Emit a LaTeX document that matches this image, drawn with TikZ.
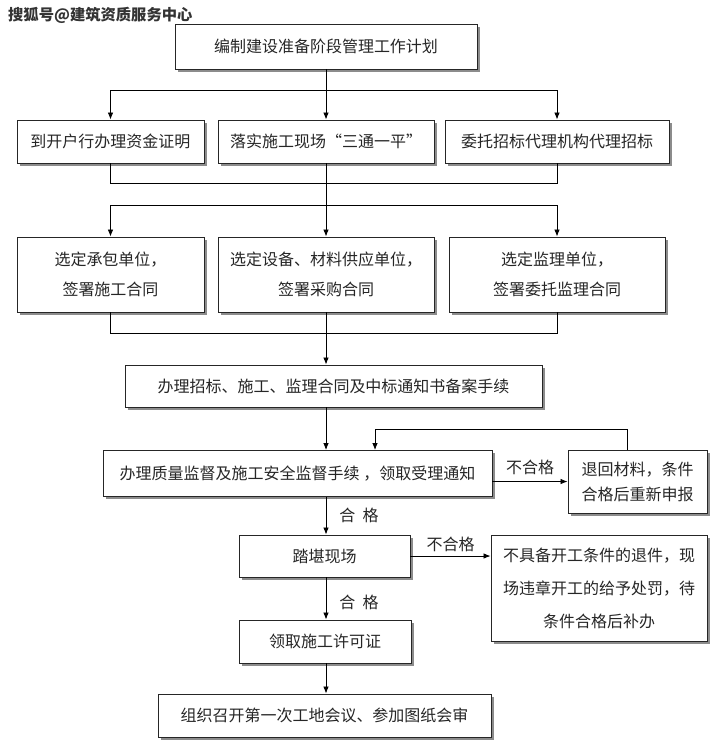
\documentclass[tikz,border=0pt]{standalone}
\usepackage{fontspec}
\setmainfont{Noto Sans CJK SC}
\usetikzlibrary{arrows.meta,shadows,calc}
\begin{document}
\begin{tikzpicture}[x=1pt,y=-1pt,
  box/.style={draw=black!85, line width=0.9pt, fill=white, inner sep=0pt,
    text=black!85, font=\fontsize{16}{18}\selectfont, align=center,
    drop shadow={shadow xshift=2.5pt, shadow yshift=-2.5pt, fill=black!45, opacity=1}},
  conn/.style={draw=black, line width=0.8pt},
  arr/.style={conn, -{Latex[length=7pt,width=5.5pt]}},
  lab/.style={text=black!85, font=\fontsize{16}{18}\selectfont, inner sep=1pt}]
\fill[white] (0,0) rectangle (720,756);
\useasboundingbox (0,0) rectangle (720,756);

\node[anchor=west, text=black!80, font=\fontsize{15.3}{17}\selectfont\bfseries, inner sep=0pt] (wm) at (8,15) {搜狐号@建筑资质服务中心};

\node[box, minimum width=302pt, minimum height=45pt] (n1) at (326,46.5) {编制建设准备阶段管理工作计划};

\node[box, minimum width=187pt, minimum height=43pt] (a1) at (110.5,141.5) {到开户行办理资金证明};
\node[box, minimum width=216pt, minimum height=43pt] (b1) at (326,141.5) {落实施工现场“三通一平”};
\node[box, minimum width=224pt, minimum height=43pt] (c1) at (557,141.5) {委托招标代理机构代理招标};

\node[box, minimum width=187pt, minimum height=75pt, font=\fontsize{16}{30}\selectfont] (a2) at (110.5,274.5) {选定承包单位，\\签署施工合同};
\node[box, minimum width=216pt, minimum height=75pt, font=\fontsize{16}{30}\selectfont] (b2) at (326,274.5) {选定设备、材料供应单位，\\签署采购合同};
\node[box, minimum width=216pt, minimum height=75pt, font=\fontsize{16}{30}\selectfont] (c2) at (557,274.5) {选定监理单位，\\签署委托监理合同};

\node[box, minimum width=417pt, minimum height=42pt] (n3) at (333.5,386) {办理招标、施工、监理合同及中标通知书备案手续};

\node[box, minimum width=389pt, minimum height=46pt] (n4) at (297.5,473.5) {办理质量监督及施工安全监督手续 ，领取受理通知};
\node[box, minimum width=139pt, minimum height=63pt, font=\fontsize{16}{25}\selectfont] (r4) at (637.5,481.5) {退回材料，条件\\合格后重新申报};

\node[box, minimum width=171pt, minimum height=42pt] (n5) at (324.5,556) {踏堪现场};
\node[box, minimum width=216pt, minimum height=106pt, font=\fontsize{16}{33}\selectfont] (r5) at (599,588) {不具备开工条件的退件，现\\场违章开工的给予处罚，待\\条件合格后补办};

\node[box, minimum width=172pt, minimum height=43pt] (n6) at (325,641.5) {领取施工许可证};
\node[box, minimum width=333pt, minimum height=43pt] (n7) at (324.5,715.5) {组织召开第一次工地会议、参加图纸会审};

% split 1
\coordinate (s1) at (326,90);
\draw[conn] (n1.south) -- (s1);
\draw[arr] (s1) -| (a1.north);
\draw[arr] (s1) -| (c1.north);
\draw[arr] (s1) -- (b1.north);

% merge 1 / split 2
\coordinate (m1) at (326,183);
\coordinate (s2) at (326,205);
\draw[conn] (a1.south) |- (m1);
\draw[conn] (c1.south) |- (m1);
\draw[conn] (b1.south) -- (s2);
\draw[arr] (s2) -| (a2.north);
\draw[arr] (s2) -| (c2.north);
\draw[arr] (s2) -- (b2.north);

% merge 2
\coordinate (m2) at (326,333);
\draw[conn] (a2.south) |- (m2);
\draw[conn] (c2.south) |- (m2);
\draw[conn] (b2.south) -- (m2);
\draw[arr] (m2) -- (m2 |- n3.north);

% n3 -> n4
\draw[arr] (n3.south -| m2) -- (n4.north -| m2);

% n4 -> r4
\draw[arr] ([yshift=-8pt]n4.east) -- ([yshift=-8pt]n4.east -| r4.west)
  node[lab, midway, above, yshift=5pt] {不合格};
% feedback
\coordinate (fb) at (375,429);
\draw[arr] ([xshift=-10pt]r4.north) |- (fb) -- (fb |- n4.north);

% n4 -> n5
\draw[arr] (n4.south -| m2) -- (n5.north -| m2)
  node[lab, midway, right, xshift=12pt] {合\ \ 格};
% n5 -> r5
\draw[arr] (n5.east) -- (n5.east -| r5.west)
  node[lab, midway, above, yshift=3pt] {不合格};
% n5 -> n6
\draw[arr] (n5.south -| m2) -- (n6.north -| m2)
  node[lab, midway, right, xshift=12pt, yshift=-4pt] {合\ \ 格};
% n6 -> n7
\draw[arr] (n6.south -| m2) -- (n7.north -| m2);
\end{tikzpicture}
\end{document}
